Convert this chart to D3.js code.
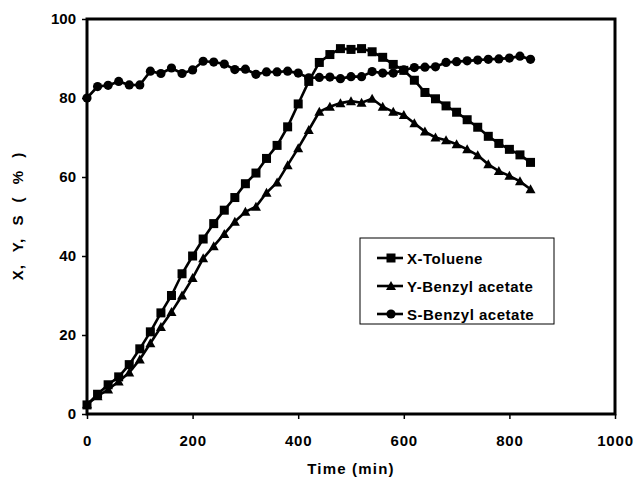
<!DOCTYPE html>
<html><head><meta charset="utf-8">
<script src="https://cdn.jsdelivr.net/npm/d3@7"></script>
<style>body{margin:0;background:#fff}svg{display:block}text{font-family:"Liberation Sans",Arial,sans-serif;font-weight:bold;fill:#000}</style>
</head><body><svg id="c" width="638" height="483"></svg>
<script>
const times = d3.range(0, 841, 20);
const xToluene = [2.3,5,7.4,9.4,12.5,16.5,20.8,25.6,30,35.5,40,44.3,48.2,51.6,54.8,58.3,61,64.7,68,72.7,78.5,84.2,89,91,92.5,92.3,92.5,91.7,90.3,88.5,87,84.5,81.4,79.8,78,76.4,74.5,72.6,70.3,68.5,67,65.6,63.7];
const yBenzyl = [2.5,4.5,6.2,8.2,10.5,13.8,17.9,22,25.8,30,34.4,39.4,42.5,45.6,48.7,51.2,52.5,56,58.6,63,67.3,71.9,76.5,77.8,78.7,79.2,78.8,79.8,77.8,76.5,75.7,73.6,71.5,70,69.3,68.3,67,65.5,63.2,61.5,60.3,58.9,56.9];
const sBenzyl = [80,82.9,83.2,84.2,83.3,83.3,86.8,86.2,87.6,86.2,87.1,89.3,89.1,88.6,87.2,87.3,86,86.6,86.6,86.8,86.3,85.1,85.2,85.3,84.9,85.4,85.4,86.7,86.3,86.3,87.1,87.7,87.8,87.9,89,89.2,89.4,89.6,89.8,89.9,90.1,90.6,89.8];
const xTicks = [0,200,400,600,800,1000];
const yTicks = [0,20,40,60,80,100];
const seriesNames = ["X-Toluene","Y-Benzyl acetate","S-Benzyl acetate"];
const seriesData = [xToluene, yBenzyl, sBenzyl];
const markers = ["square","triangle","circle"];

const svg = d3.select("#c");
const L=87, R=615, T=19, B=414;
const x = d3.scaleLinear().domain([0,1000]).range([L,R]);
const y = d3.scaleLinear().domain([0,100]).range([B,T]);

function drawMarker(g, type, cx, cy){
  if(type==="square") g.append("rect").attr("x",cx-4.5).attr("y",cy-4.5).attr("width",9).attr("height",9).attr("fill","#000");
  else if(type==="circle") g.append("circle").attr("cx",cx).attr("cy",cy).attr("r",4.6).attr("fill","#000");
  else g.append("path").attr("d",`M${cx},${cy-5} L${cx+5},${cy+4} L${cx-5},${cy+4}Z`).attr("fill","#000");
}

svg.append("rect").attr("x",L).attr("y",T).attr("width",R-L).attr("height",B-T).attr("fill","none").attr("stroke","#000").attr("stroke-width",3);

const xAxis = svg.append("g").attr("transform",`translate(0,${B})`).call(d3.axisBottom(x).tickValues(xTicks).tickSize(5).tickPadding(16).tickFormat(d3.format("d")));
const yAxis = svg.append("g").attr("transform",`translate(${L},0)`).call(d3.axisLeft(y).tickValues(yTicks).tickSize(5).tickPadding(6).tickFormat(d3.format("d")));
[xAxis,yAxis].forEach(a=>{a.select(".domain").remove();a.selectAll("line").attr("stroke","#000").attr("stroke-width",1.5);a.selectAll("text").attr("font-size",15).attr("font-family","Liberation Sans, Arial, sans-serif").attr("font-weight","bold").attr("fill","#000");});
xAxis.selectAll("text").attr("letter-spacing",0.8);

svg.append("text").attr("x",351).attr("y",474).attr("text-anchor","middle").attr("font-size",15).attr("letter-spacing",1.2).text("Time (min)");
svg.append("text").attr("transform","translate(23,216) rotate(-90)").attr("text-anchor","middle").attr("font-size",15).attr("letter-spacing",1).attr("word-spacing",7).text("X, Y, S ( % )");

const line = d3.line().x((d,i)=>x(times[i])).y(d=>y(d));
seriesData.forEach((arr,k)=>{
  svg.append("path").datum(arr).attr("d",line).attr("fill","none").attr("stroke","#000").attr("stroke-width",2.6);
  const g = svg.append("g");
  arr.forEach((v,i)=>drawMarker(g, markers[k], x(times[i]), y(v)));
});

const lg = svg.append("g");
lg.append("rect").attr("x",360).attr("y",238).attr("width",194).attr("height",86).attr("fill","#fff").attr("stroke","#000").attr("stroke-width",1);
seriesNames.forEach((n,k)=>{
  const yy = 258 + k*28;
  lg.append("line").attr("x1",377).attr("x2",403).attr("y1",yy).attr("y2",yy).attr("stroke","#000").attr("stroke-width",2.6);
  drawMarker(lg, markers[k], 391, yy);
  lg.append("text").attr("x",407).attr("y",yy+5.5).attr("font-size",15).attr("letter-spacing",0.5).text(n);
});
</script></body></html>
